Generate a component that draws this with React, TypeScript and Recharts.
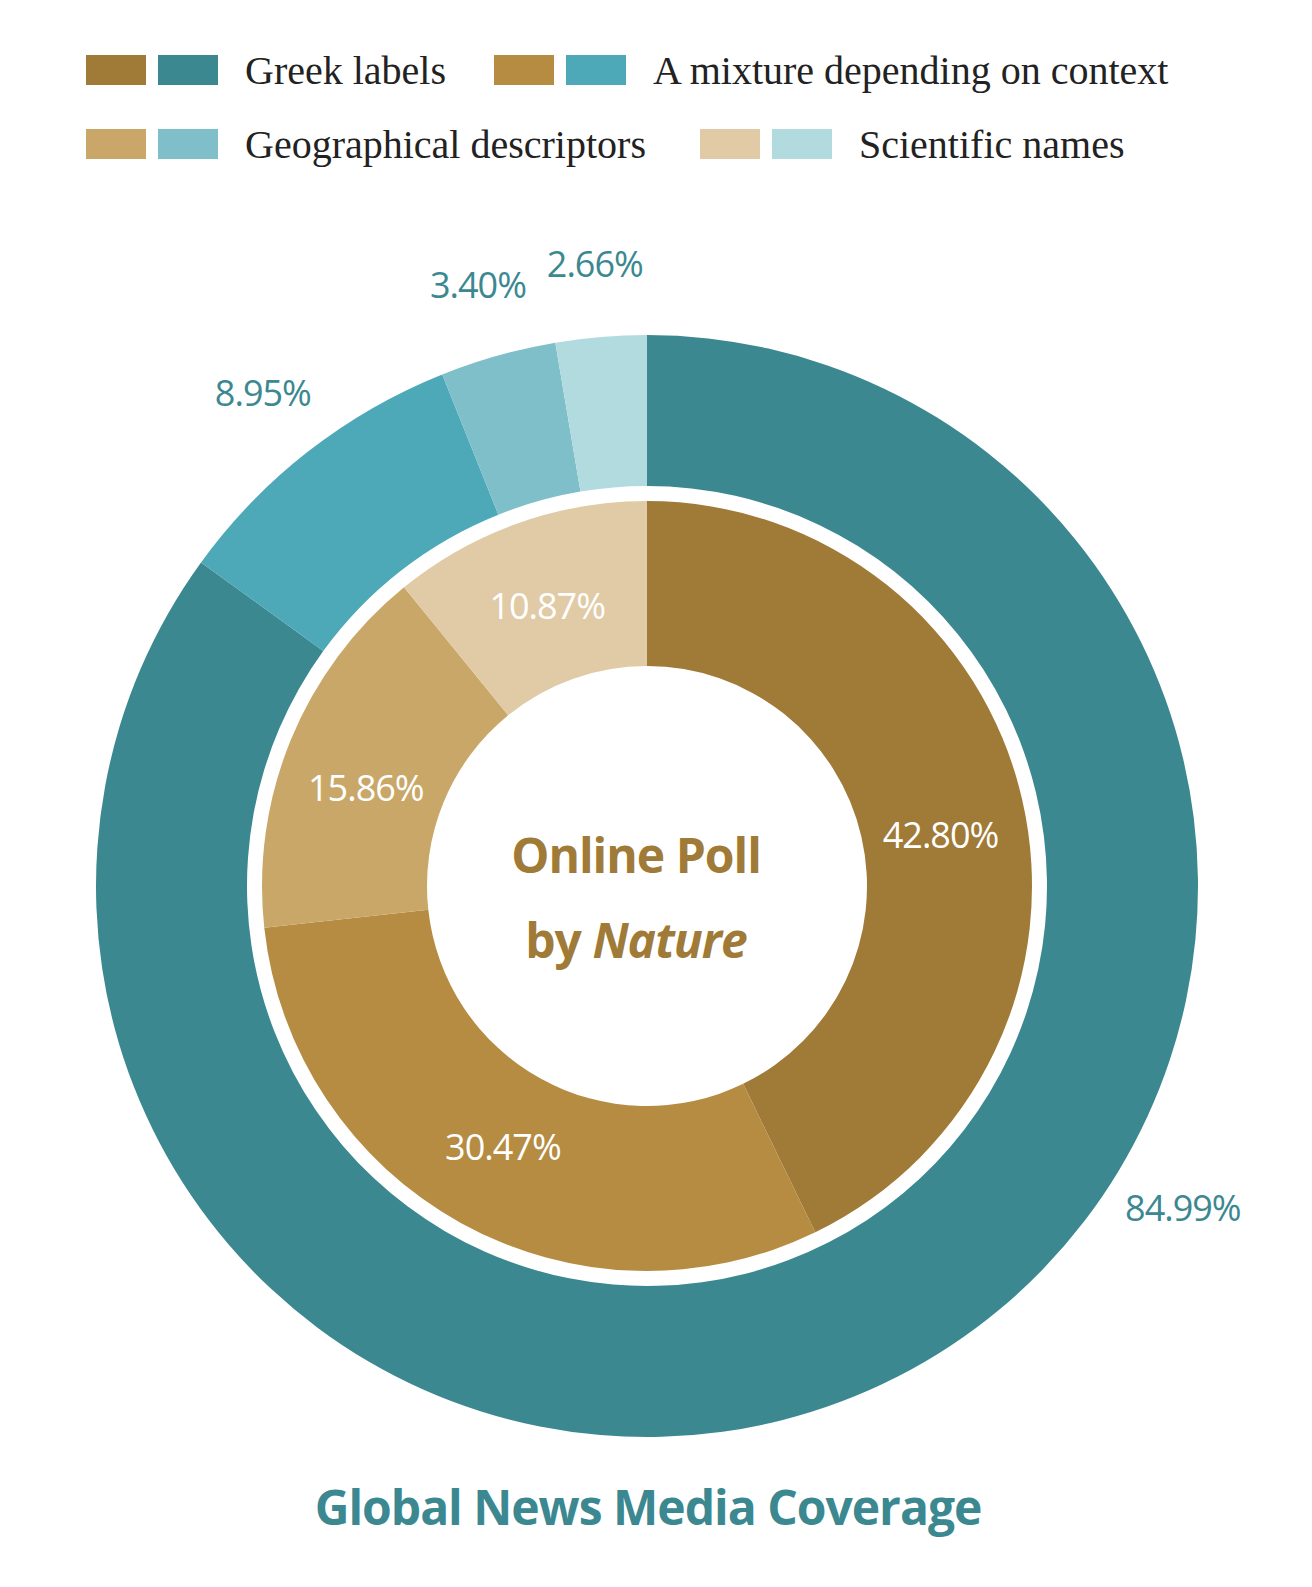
import React from 'react';
import { PieChart, Pie, Cell } from 'recharts';

const categories = ['Greek labels', 'A mixture depending on context', 'Geographical descriptors', 'Scientific names'];
const pollValues = [42.80, 30.47, 15.86, 10.87];
const mediaValues = [84.99, 8.95, 3.40, 2.66];
const pollColors = ['#A07A37', '#B58C42', '#C9A768', '#E1CBA6'];
const mediaColors = ['#3B8891', '#4DA9B7', '#7EBFC9', '#B2DBE0'];

const pollData = categories.map((c, i) => ({ name: c, value: pollValues[i] }));
const mediaData = categories.map((c, i) => ({ name: c, value: mediaValues[i] }));

const sans = '"Open Sans", "Noto Sans", sans-serif';
const RAD = Math.PI / 180;

const makeLabel = (r: number, fill: string, shift: number[]) => (props: any) => {
	const { cx, cy, midAngle, index, value } = props;
	const a = (midAngle + (shift[index] || 0)) * RAD;
	const x = cx + r * Math.cos(a);
	const y = cy - r * Math.sin(a);
	return (
		<text x={x} y={y} fill={fill} fontSize={36} fontFamily={sans} textAnchor="middle" dominantBaseline="central" letterSpacing={-1}>
			{value.toFixed(2)}%
		</text>
	);
};

const Swatch = ({ c }: { c: string }) => (
	<span style={{ display: 'inline-block', width: 60, height: 30, background: c, marginRight: 12 }} />
);

const LegendItem = ({ i, width }: { i: number; width: number }) => (
	<div style={{ display: 'flex', alignItems: 'center', width }}>
		<Swatch c={pollColors[i]} />
		<Swatch c={mediaColors[i]} />
		<span style={{ marginLeft: 15 }}>{categories[i]}</span>
	</div>
);

export default function App() {
	return (
		<div style={{ position: 'absolute', left: 0, top: 0, width: 1312, height: 1587, background: '#fff' }}>
			<div style={{ position: 'absolute', left: 86, top: 47, fontFamily: '"Liberation Serif", serif', fontSize: 40, color: '#222' }}>
				<div style={{ display: 'flex', height: 46 }}>
					<LegendItem i={0} width={408} />
					<LegendItem i={1} width={720} />
				</div>
				<div style={{ display: 'flex', height: 46, marginTop: 28 }}>
					<LegendItem i={2} width={614} />
					<LegendItem i={3} width={500} />
				</div>
			</div>
			<PieChart width={1312} height={1587} style={{ position: 'absolute', left: 0, top: 0 }}>
				<Pie data={mediaData} dataKey="value" cx={642} cy={881} innerRadius={400} outerRadius={551}
					startAngle={90} endAngle={-270} stroke="none" isAnimationActive={false}
					label={makeLabel(625, '#3B8891', [32, 0, 0, 0])} labelLine={false}>
					{mediaData.map((d, i) => <Cell key={d.name} fill={mediaColors[i]} />)}
				</Pie>
				<Pie data={pollData} dataKey="value" cx={642} cy={881} innerRadius={220} outerRadius={385}
					startAngle={90} endAngle={-270} stroke="none" isAnimationActive={false}
					label={makeLabel(298, '#ffffff', [-3, 0, 3, 0])} labelLine={false}>
					{pollData.map((d, i) => <Cell key={d.name} fill={pollColors[i]} />)}
				</Pie>
				<text x={636} y={854} textAnchor="middle" dominantBaseline="central" fill="#A07A37" fontSize={48} fontWeight="bold" fontFamily={sans} letterSpacing={-1}>Online Poll</text>
				<text x={636} y={939} textAnchor="middle" dominantBaseline="central" fill="#A07A37" fontSize={48} fontWeight="bold" fontFamily={sans} letterSpacing={-1}>
					by <tspan fontStyle="italic">Nature</tspan>
				</text>
				<text x={648} y={1506} textAnchor="middle" dominantBaseline="central" fill="#3B8891" fontSize={48} fontWeight="bold" fontFamily={sans} letterSpacing={-1}>Global News Media Coverage</text>
			</PieChart>
		</div>
	);
}
